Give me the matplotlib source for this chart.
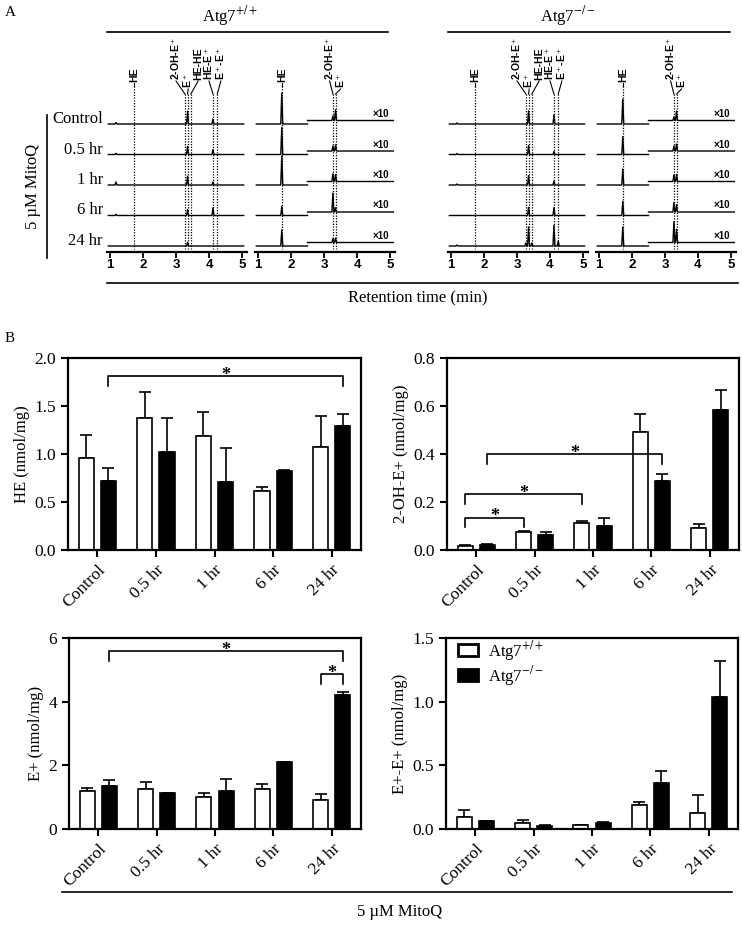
import numpy as np
import matplotlib
matplotlib.use("Agg")
import matplotlib.pyplot as plt
from matplotlib.lines import Line2D
from matplotlib.patches import Patch

plt.rcParams["font.family"] = "Liberation Serif"
plt.rcParams["mathtext.fontset"] = "stix"

# ---------------- data: panel A (chromatogram peak heights, arbitrary units) ----------------
rows = ["Control", "0.5 hr", "1 hr", "6 hr", "24 hr"]
full_pos = [1.18, 3.27, 3.35, 3.45, 4.12, 4.25]   # small, 2-OH-E+, E+, HE-HE, HE-E+, E+-E+
wt_full = [[1.5, 0, 12.7, 0, 5.0, 0],
           [1.2, 0, 8.0, 0, 5.0, 0],
           [3.0, 0, 8.7, 0, 3.0, 0],
           [1.2, 0, 6.0, 0, 7.7, 0],
           [0, 0, 3.7, 0, 0, 0]]
ko_full = [[1.0, 0, 13.0, 0, 9.0, 0],
           [1.0, 0, 9.0, 0, 3.0, 0],
           [1.0, 0, 9.3, 0, 3.7, 0],
           [0, 0, 8.0, 0, 8.0, 0],
           [1.0, 3.0, 19.0, 3.0, 20.7, 5.0]]
he_pos = [1.72]
wt_he = [[31], [27], [29], [9], [16]]
ko_he = [[24.7], [17.7], [16], [14], [19]]
x10_pos = [3.27, 3.35]
wt_x10 = [[4.7, 10.7], [5.0, 6.0], [7.7, 7.0], [19.0, 4.3], [4.0, 4.3]]
ko_x10 = [[3.7, 9.3], [5.0, 7.0], [6.7, 7.0], [9.3, 7.3], [20.7, 13.0]]

# ---------------- data: panel B ----------------
groups = ["Control", "0.5 hr", "1 hr", "6 hr", "24 hr"]
he_wt = [0.96, 1.38, 1.19, 0.61, 1.07]
he_wt_err = [0.24, 0.27, 0.25, 0.05, 0.33]
he_ko = [0.72, 1.02, 0.71, 0.82, 1.29]
he_ko_err = [0.13, 0.35, 0.35, 0.01, 0.13]
oh_wt = [0.015, 0.077, 0.112, 0.49, 0.091]
oh_wt_err = [0.005, 0.003, 0.007, 0.076, 0.017]
oh_ko = [0.021, 0.063, 0.099, 0.289, 0.582]
oh_ko_err = [0.003, 0.012, 0.034, 0.028, 0.086]
ep_wt = [1.20, 1.25, 0.99, 1.25, 0.91]
ep_wt_err = [0.08, 0.24, 0.14, 0.17, 0.19]
ep_ko = [1.35, 1.12, 1.19, 2.10, 4.20]
ep_ko_err = [0.20, 0.01, 0.38, 0.01, 0.09]
ee_wt = [0.094, 0.047, 0.031, 0.188, 0.128]
ee_wt_err = [0.052, 0.023, 0.0, 0.023, 0.136]
ee_ko = [0.063, 0.026, 0.050, 0.363, 1.034]
ee_ko_err = [0.002, 0.008, 0.003, 0.089, 0.286]

W, H = 742, 925
fig = plt.figure(figsize=(W / 100, H / 100), dpi=100)


def fx(x):
    return x / W


def fy(y):
    return 1 - y / H


def ax_px(x0, y0, x1, y1):
    return fig.add_axes([fx(x0), fy(y1), (x1 - x0) / W, (y1 - y0) / H])


def fig_line(x0, y0, x1, y1, lw=1.2):
    fig.add_artist(Line2D([fx(x0), fx(x1)], [fy(y0), fy(y1)], color="black", lw=lw,
                          transform=fig.transFigure))


def trace(x0, x1, pos, h, w=0.03):
    pts = sorted((p, v) for p, v in zip(pos, h) if v > 0)
    xs, ys = [x0], [0.0]
    for p, v in pts:
        xs += [p - w, p, p + w]
        ys += [0.0, v, 0.0]
    xs.append(x1)
    ys.append(0.0)
    return np.array(xs), np.array(ys)


sans = dict(family="Liberation Sans", weight="bold", fontsize=7.5)
row_gap, base0 = 30.5, 6


def chrom_axes(x_left_px):
    ax = ax_px(x_left_px, 40, x_left_px + 4.25 * 33, 252)
    ax.set_xlim(0.9, 5.15)
    ax.set_ylim(0, 212)
    for s in ["top", "right", "left"]:
        ax.spines[s].set_visible(False)
    ax.spines["bottom"].set_linewidth(1.6)
    ax.set_yticks([])
    ax.set_xticks([1, 2, 3, 4, 5])
    ax.tick_params(axis="x", direction="out", length=4, width=1.3, pad=1)
    for t in ax.get_xticklabels():
        t.set_fontfamily("Liberation Sans")
        t.set_fontweight("bold")
        t.set_fontsize(9.5)
    return ax


def label(ax, tx, ty, s, px, conn_bot=158):
    ax.text(tx, ty, s, rotation=90, ha="center", va="bottom", **sans)
    ax.plot([tx, px], [ty - 1, conn_bot], color="black", lw=0.8)
    ax.plot([px, px], [conn_bot, 3], color="black", lw=0.9, ls=(0, (1, 1.2)))


for shift, full, he, x10 in [(0, wt_full, wt_he, wt_x10), (341, ko_full, ko_he, ko_x10)]:
    a1 = chrom_axes(106.7 + shift)
    a2 = chrom_axes(254.7 + shift)
    for i in range(len(rows)):
        off = base0 + row_gap * (4 - i)
        x, y = trace(0.95, 5.05, full_pos, full[i])
        a1.plot(x, y + off, color="black", lw=1.0)
        x, y = trace(0.95, 2.5, he_pos, he[i])
        a2.plot(x, y + off, color="black", lw=1.0)
        x, y = trace(2.5, 5.1, x10_pos, x10[i])
        a2.plot(x, y + off + 3.5, color="black", lw=1.0)
        a2.text(4.72, off + 5, "×10", ha="center", va="bottom",
                family="Liberation Sans", weight="bold", fontsize=7)
    # peak labels, panel 1
    label(a1, 1.72, 170, "HE", 1.72, conn_bot=166)
    label(a1, 3.0, 172, "2-OH-E$^+$", 3.27)
    label(a1, 3.37, 164, "E$^+$", 3.35)
    label(a1, 3.67, 172, "HE-HE", 3.45)
    label(a1, 4.0, 172, "HE-E$^+$", 4.12)
    label(a1, 4.36, 172, "E$^+$-E$^+$", 4.25)
    # panels 2/3
    label(a2, 1.72, 170, "HE", 1.72, conn_bot=166)
    label(a2, 3.17, 172, "2-OH-E$^+$", 3.27)
    label(a2, 3.5, 164, "E$^+$", 3.35)

# panel A frame lines and text
fig.text(fx(5), fy(12), "A", fontsize=11, va="center")
fig.text(fx(230), fy(16), "Atg7$^{+/+}$", fontsize=12, ha="center", va="center")
fig.text(fx(568), fy(16), "Atg7$^{-/-}$", fontsize=12, ha="center", va="center")
fig_line(107, 32, 388, 32)
fig_line(448, 32, 730, 32)
fig_line(107, 283, 738, 283)
fig.text(fx(418), fy(298), "Retention time (min)", fontsize=12, ha="center", va="center")
for i, r in enumerate(rows):
    ypx = 252 - (base0 + row_gap * (4 - i)) - 5
    fig.text(fx(103), fy(ypx), r, fontsize=12, ha="right", va="center")
fig_line(47, 115, 47, 258)
fig.text(fx(33), fy(186), "5 µM MitoQ", fontsize=12, rotation=90, ha="center", va="center")

# ---------------- panel B ----------------
fig.text(fx(5), fy(338), "B", fontsize=11, va="center")
xpos = np.arange(len(groups))
off = {"wt": -0.19, "ko": 0.19}
bw = 0.26


def bar_panel(rect, wt, wt_err, ko, ko_err, ymax, yticks, fmt, ylabel, brackets):
    ax = ax_px(*rect)
    ax.bar(xpos + off["wt"], wt, bw, color="white", edgecolor="black", lw=1.2, zorder=2)
    ax.bar(xpos + off["ko"], ko, bw, color="black", edgecolor="black", lw=1.2, zorder=2)
    for vals, errs, o in [(wt, wt_err, off["wt"]), (ko, ko_err, off["ko"])]:
        ax.errorbar(xpos + o, vals, yerr=[np.zeros(len(vals)), errs], fmt="none",
                    ecolor="black", elinewidth=1.2, capsize=4, capthick=1.2, zorder=1)
    ax.set_xlim(-0.5, 4.5)
    ax.set_ylim(0, ymax)
    ax.set_yticks(yticks)
    ax.set_yticklabels([fmt.format(v) for v in yticks])
    ax.set_xticks(xpos)
    ax.set_xticklabels(groups, rotation=45, ha="right", rotation_mode="anchor")
    for s in ax.spines.values():
        s.set_linewidth(1.6)
    ax.tick_params(direction="out", length=5, width=1.5, labelsize=12.5)
    ax.set_ylabel(ylabel, fontsize=12, labelpad=3)
    drop = 0.05 * ymax
    for i1, s1, i2, s2, ytop in brackets:
        xa, xb = i1 + off[s1], i2 + off[s2]
        ax.plot([xa, xa, xb, xb], [ytop - drop, ytop, ytop, ytop - drop], color="black", lw=1.2)
        ax.text((xa + xb) / 2, ytop + 0.005 * ymax, "*", ha="center", va="center",
                fontsize=13, fontweight="bold")
    return ax


bar_panel((68, 358, 361, 550), he_wt, he_wt_err, he_ko, he_ko_err, 2.0,
          [0, 0.5, 1.0, 1.5, 2.0], "{:.1f}", "HE (nmol/mg)", [(0, "ko", 4, "ko", 1.81)])
bar_panel((447, 358, 739, 550), oh_wt, oh_wt_err, oh_ko, oh_ko_err, 0.8,
          [0, 0.2, 0.4, 0.6, 0.8], "{:.1f}", "2-OH-E+ (nmol/mg)",
          [(0, "wt", 1, "wt", 0.135), (0, "wt", 2, "wt", 0.233), (0, "ko", 3, "ko", 0.398)])
bar_panel((69, 638, 361, 829), ep_wt, ep_wt_err, ep_ko, ep_ko_err, 6,
          [0, 2, 4, 6], "{:.0f}", "E+ (nmol/mg)",
          [(0, "ko", 4, "ko", 5.58), (4, "wt", 4, "ko", 4.87)])
ax4 = bar_panel((446, 638, 738, 829), ee_wt, ee_wt_err, ee_ko, ee_ko_err, 1.5,
                [0, 0.5, 1.0, 1.5], "{:.1f}", "E+-E+ (nmol/mg)", [])
handles = [Patch(facecolor="white", edgecolor="black", lw=2),
           Patch(facecolor="black", edgecolor="black", lw=2)]
ax4.legend(handles, ["Atg7$^{+/+}$", "Atg7$^{-/-}$"], loc="upper left", frameon=False,
           bbox_to_anchor=(0.012, 1.04), fontsize=12, handlelength=1.2, handleheight=0.75,
           labelspacing=0.05, borderaxespad=0.0, borderpad=0.5, handletextpad=0.6)

fig_line(62, 892, 732, 892)
fig.text(fx(400), fy(912), "5 µM MitoQ", fontsize=12, ha="center", va="center")

fig.savefig("out.png", dpi=100)
